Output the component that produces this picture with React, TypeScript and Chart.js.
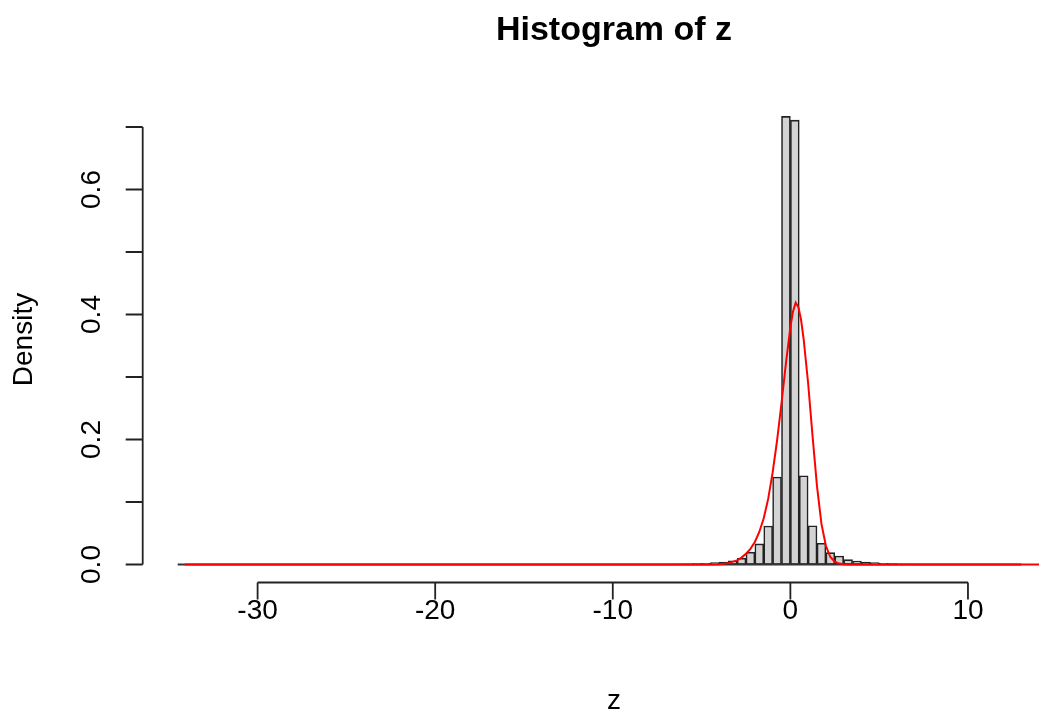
import React, { useEffect, useRef } from "react";
import { Chart, registerables } from "chart.js";

Chart.register(...registerables);

// Histogram bins (left edge, bin width 0.5) and density values
const binLeftEdges = [
  -7, -6.5, -6, -5.5, -5, -4.5, -4, -3.5, -3, -2.5, -2, -1.5, -1, -0.5,
  0, 0.5, 1, 1.5, 2, 2.5, 3, 3.5, 4, 4.5, 5, 5.5, 6, 6.5, 7,
];
const binDensities = [
  0.0004, 0.0006, 0.001, 0.0015, 0.002, 0.003, 0.004, 0.006, 0.01, 0.0197, 0.033, 0.0615, 0.14, 0.717,
  0.711, 0.142, 0.062, 0.034, 0.019, 0.0136, 0.0078, 0.0056, 0.004, 0.003, 0.002, 0.0013, 0.0008, 0.0005, 0.0003,
];
const binWidth = 0.5;

// Empty bins along the base of the histogram
const baselineX = [-34.5, 13];
const baselineY = [0, 0];

// Red density curve
const curveX = [
  -34.1, -4.5, -4, -3.5, -3, -2.75, -2.5, -2.25, -2, -1.75, -1.5, -1.25, -1, -0.75, -0.5, -0.25,
  0, 0.15, 0.3, 0.45, 0.6, 0.75, 1, 1.25, 1.5, 1.75, 2, 2.25, 2.5, 2.75, 3, 3.25, 14.5,
];
const curveY = [
  0, 0, 0.0005, 0.0022, 0.0065, 0.011, 0.017, 0.025, 0.036, 0.052, 0.074, 0.105, 0.147, 0.198, 0.258, 0.322,
  0.38, 0.405, 0.419, 0.412, 0.392, 0.36, 0.29, 0.205, 0.125, 0.065, 0.03, 0.012, 0.0045, 0.0015, 0.0004, 0, 0,
];

const xTicks = [-30, -20, -10, 0, 10];
const xTickLabels = ["-30", "-20", "-10", "0", "10"];
const yTicks = [0, 0.1, 0.2, 0.3, 0.4, 0.5, 0.6, 0.7];
const yTickLabels = ["0.0", "", "0.2", "", "0.4", "", "0.6", ""];

const titleText = "Histogram of z";
const xLabelText = "z";
const yLabelText = "Density";

const FONT = "'Liberation Sans', Arial, Helvetica, sans-serif";

const rAxesPlugin = {
  id: "rAxes",
  afterDraw(chart: any) {
    const ctx = chart.ctx as CanvasRenderingContext2D;
    const xs = chart.scales.x;
    const ys = chart.scales.y;
    const area = chart.chartArea;
    ctx.save();
    ctx.strokeStyle = "#222";
    ctx.lineWidth = 1.8;
    ctx.fillStyle = "#000";
    const tickLen = 17;

    // x axis
    const axY = area.bottom;
    ctx.beginPath();
    ctx.moveTo(xs.getPixelForValue(xTicks[0]), axY);
    ctx.lineTo(xs.getPixelForValue(xTicks[xTicks.length - 1]), axY);
    xTicks.forEach((t) => {
      const px = xs.getPixelForValue(t);
      ctx.moveTo(px, axY);
      ctx.lineTo(px, axY + tickLen);
    });
    ctx.stroke();
    ctx.font = `28px ${FONT}`;
    ctx.textAlign = "center";
    ctx.textBaseline = "middle";
    xTicks.forEach((t, i) => {
      ctx.fillText(xTickLabels[i], xs.getPixelForValue(t), axY + 29);
    });

    // y axis
    const axX = area.left;
    ctx.beginPath();
    ctx.moveTo(axX, ys.getPixelForValue(yTicks[0]));
    ctx.lineTo(axX, ys.getPixelForValue(yTicks[yTicks.length - 1]));
    yTicks.forEach((t) => {
      const py = ys.getPixelForValue(t);
      ctx.moveTo(axX, py);
      ctx.lineTo(axX - tickLen, py);
    });
    ctx.stroke();
    yTicks.forEach((t, i) => {
      if (!yTickLabels[i]) return;
      ctx.save();
      ctx.translate(axX - 50, ys.getPixelForValue(t));
      ctx.rotate(-Math.PI / 2);
      ctx.fillText(yTickLabels[i], 0, 0);
      ctx.restore();
    });

    // axis titles
    const midX = 614;
    ctx.fillText(xLabelText, midX, 701);
    ctx.save();
    ctx.translate(24, (area.top + area.bottom) / 2);
    ctx.rotate(-Math.PI / 2);
    ctx.fillText(yLabelText, 0, 0);
    ctx.restore();

    // main title
    ctx.font = `bold 34px ${FONT}`;
    ctx.fillText(titleText, midX, 31);
    ctx.restore();
  },
};

export default function App() {
  const ref = useRef<HTMLCanvasElement | null>(null);

  useEffect(() => {
    document.body.style.margin = "0";
    const canvas = ref.current;
    if (!canvas) return;
    const chart = new Chart(canvas, {
      type: "bar",
      data: {
        datasets: [
          {
            type: "line",
            label: "curve",
            data: curveX.map((x, i) => ({ x, y: curveY[i] })),
            borderColor: "#ff0000",
            borderWidth: 2,
            pointRadius: 0,
            tension: 0,
            order: 0,
          } as any,
          {
            type: "line",
            label: "empty bins",
            data: baselineX.map((x, i) => ({ x, y: baselineY[i] })),
            borderColor: "#333",
            borderWidth: 2,
            pointRadius: 0,
            order: 1,
          } as any,
          {
            type: "bar",
            label: "z",
            data: binLeftEdges.map((e, i) => ({ x: e + binWidth / 2, y: binDensities[i] })),
            backgroundColor: "#d3d3d3",
            borderColor: "#222",
            borderWidth: 1.6,
            borderSkipped: false,
            barPercentage: 1,
            categoryPercentage: 1,
            grouped: false,
            order: 2,
          } as any,
        ],
      },
      options: {
        responsive: false,
        animation: false,
        events: [],
        layout: { padding: { left: 142.7, right: 0, top: 96.5, bottom: 136.5 } },
        plugins: { legend: { display: false }, tooltip: { enabled: false }, title: { display: false } },
        scales: {
          x: { type: "linear", min: -36.47, max: 14.0, offset: false, display: false },
          y: { type: "linear", min: -0.0288, max: 0.7488, display: false },
        },
      },
      plugins: [rAxesPlugin],
    });
    return () => chart.destroy();
  }, []);

  return (
    <div style={{ position: "absolute", left: 0, top: 0, width: 1039, height: 719, background: "#fff" }}>
      <canvas ref={ref} width={1039} height={719} />
    </div>
  );
}
